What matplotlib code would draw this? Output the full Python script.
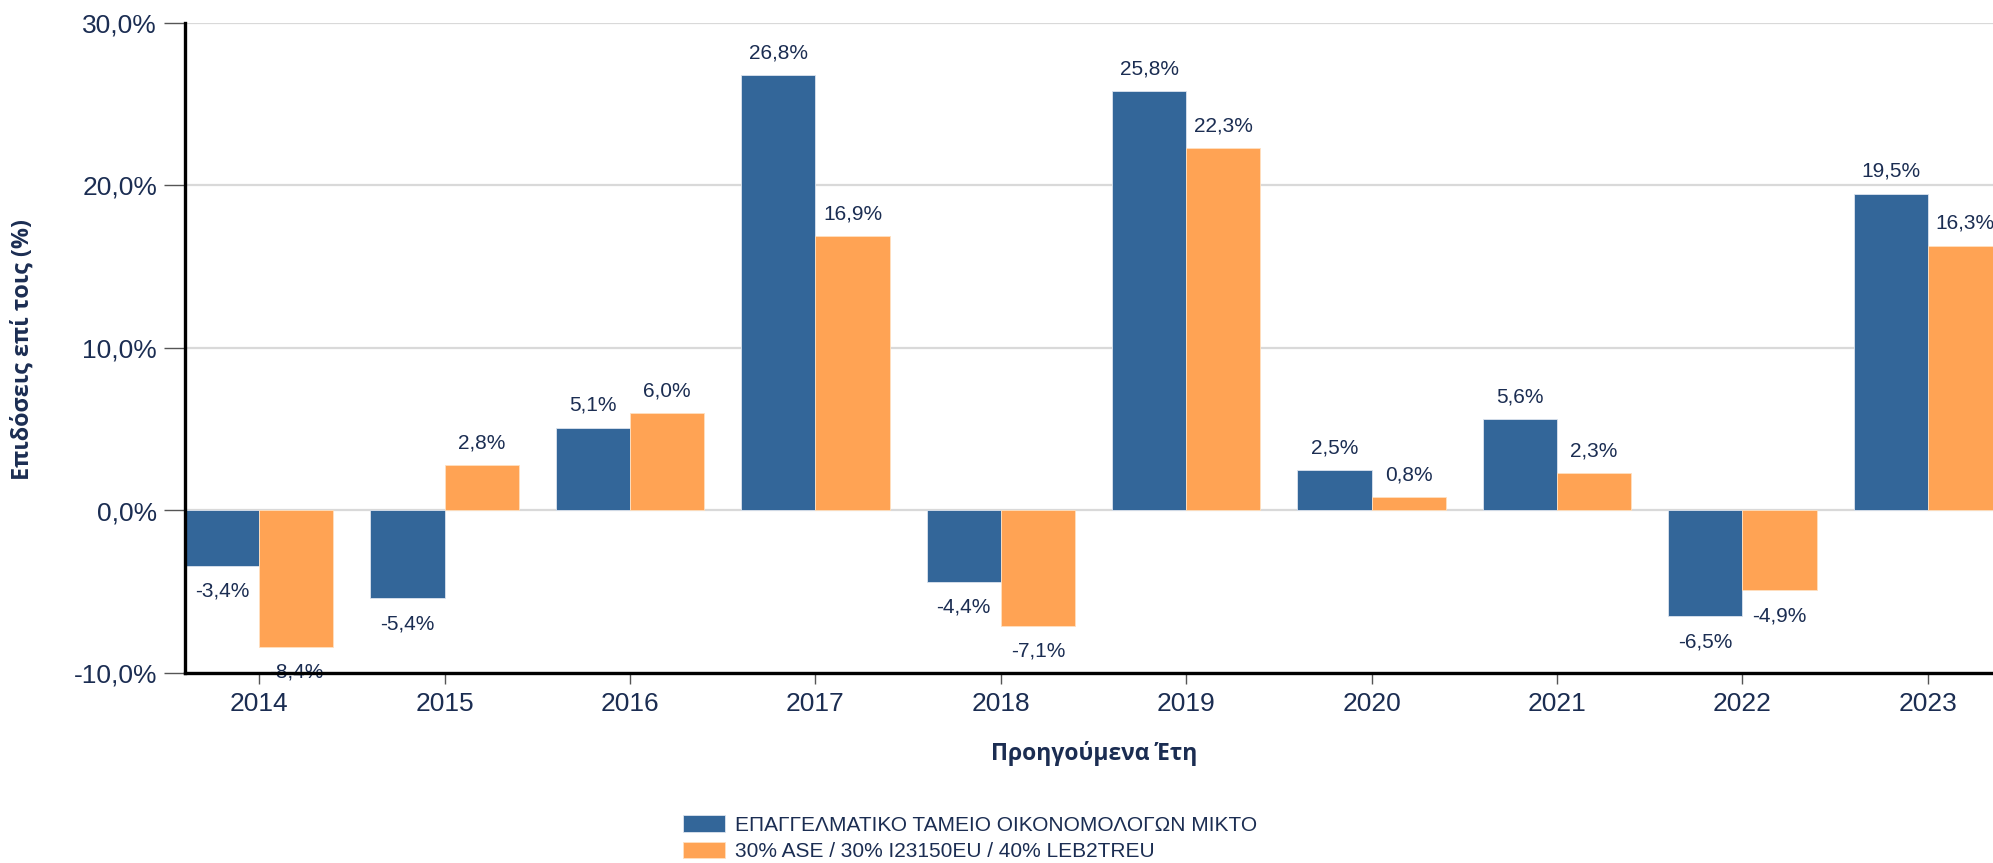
import numpy as np
import matplotlib
matplotlib.use('Agg')
import matplotlib.pyplot as plt
from matplotlib.ticker import FuncFormatter

# Δεδομένα
years = ['2014', '2015', '2016', '2017', '2018', '2019', '2020', '2021', '2022', '2023']
fund = [-3.4, -5.4, 5.1, 26.8, -4.4, 25.8, 2.5, 5.6, -6.5, 19.5]
bench = [-8.4, 2.8, 6.0, 16.9, -7.1, 22.3, 0.8, 2.3, -4.9, 16.3]
series_names = ['ΕΠΑΓΓΕΛΜΑΤΙΚΟ ΤΑΜΕΙΟ ΟΙΚΟΝΟΜΟΛΟΓΩΝ ΜΙΚΤΟ',
                '30% ASE / 30% I23150EU / 40% LEB2TREU']

blue = '#336699'
orange = '#ffa354'
navy = '#1b2d52'

plt.rcParams['font.family'] = ['Liberation Sans', 'DejaVu Sans']

fig = plt.figure(figsize=(19.93, 8.63), dpi=100)
ax = fig.add_axes([185 / 1993, 190 / 863, 1817 / 1993, 650 / 863])

x = np.arange(len(years))
w = 0.4
b1 = ax.bar(x - w / 2, fund, w, color=blue, edgecolor='#dde4ee', linewidth=0.6,
            label=series_names[0], zorder=2)
b2 = ax.bar(x + w / 2, bench, w, color=orange, edgecolor='#ffe0c0', linewidth=0.6,
            label=series_names[1], zorder=2)

def pct(v):
    return f'{v:.1f}%'.replace('.', ',')

for bars, vals in [(b1, fund), (b2, bench)]:
    for rect, v in zip(bars, vals):
        cx = rect.get_x() + rect.get_width() / 2
        off = 16 if v >= 0 else -18.3
        ax.annotate(pct(v), (cx, v), xytext=(0, off), textcoords='offset points',
                    ha='center', va='center', fontsize=15, color=navy, zorder=3)

ax.set_xlim(-0.4, 9.4)
ax.set_ylim(-10, 30)
ax.set_yticks([-10, 0, 10, 20, 30])
ax.yaxis.set_major_formatter(FuncFormatter(lambda v, p: pct(v)))
ax.set_xticks(x)
ax.set_xticklabels(years)

ax.grid(axis='y', color='#d9d9d9', linewidth=1.6, zorder=0)
ax.set_axisbelow(True)

for s in ['top', 'right']:
    ax.spines[s].set_visible(False)
for s in ['left', 'bottom']:
    ax.spines[s].set_linewidth(2.4)
    ax.spines[s].set_color('black')
    ax.spines[s].set_zorder(4)

ax.tick_params(axis='y', length=15, width=1, color='#555555', pad=5,
               labelsize=19, labelcolor=navy)
ax.tick_params(axis='x', length=8, width=1, color='#555555', pad=6,
               labelsize=19, labelcolor=navy)

fig.text(23 / 1993, 1 - 349 / 863, 'Επιδόσεις επί τοις (%)', rotation=90,
         ha='center', va='center', fontsize=16.8, fontweight='bold', color=navy,
         family=['Open Sans', 'DejaVu Sans'])
fig.text(1094 / 1993, 1 - 753 / 863, 'Προηγούμενα Έτη', ha='center', va='center',
         fontsize=16.5, fontweight='bold', color=navy, family=['Open Sans', 'DejaVu Sans'])

leg = fig.legend(handles=[b1, b2], loc='upper left',
                 bbox_to_anchor=(683 / 1993, 1 - 815 / 863), frameon=False,
                 fontsize=15, handlelength=2.0, handleheight=0.85,
                 handletextpad=0.5, labelspacing=0.35, borderpad=0,
                 borderaxespad=0)
for t in leg.get_texts():
    t.set_color(navy)

fig.savefig('out.png', dpi=100)
